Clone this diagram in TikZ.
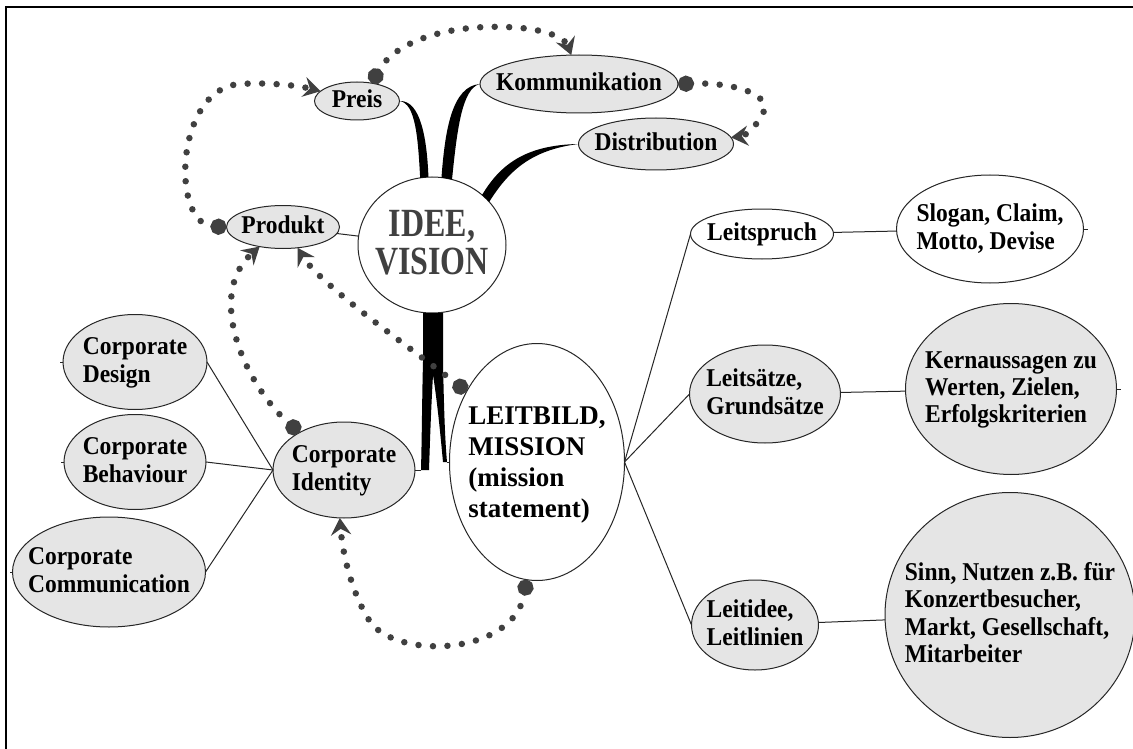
\documentclass[tikz,border=0pt]{standalone}
\usepackage{fontspec}
\setmainfont{Liberation Serif}
\usetikzlibrary{shapes.geometric,arrows.meta}

\newcommand{\textstretch}{1.09}
\newcommand{\ntext}[2][l]{\smash{\makebox[0pt]{\raisebox{-.33em}{\scalebox{1}[\textstretch]{\begin{tabular}[c]{@{}#1@{}}#2\end{tabular}}}}}}

\tikzset{
	bubble/.style={ellipse,draw=black!85,line width=1pt,fill=black!10,inner sep=0pt,outer sep=0pt,font=\bfseries\fontsize{23.5}{25}\selectfont},
	whitebubble/.style={bubble,fill=white},
	twig/.style={line width=1pt,draw=black!85},
	dotlink/.style={draw=black!75,line width=6.5pt,line cap=round,dash pattern=on 0pt off 14.5pt,{Circle[length=16pt]}-{Stealth[length=17pt,width=20pt,inset=6pt]}}
}

\begin{document}
\begin{tikzpicture}[x=1pt,y=-1pt]
		\useasboundingbox (0,0) rectangle (1133,749);
		% frame
		\draw [line width=2.5pt] (6,749) -- (6,7) -- (1133,7);
		% centre: idee and its four branches
		\node [whitebubble,minimum width=148pt,minimum height=136pt,text=black!75,font=\bfseries\fontsize{32}{30}\selectfont\renewcommand{\textstretch}{1.25}] (idee) at (432,245) {\ntext[c]{IDEE,\\VISION}};
		\node [bubble,minimum width=85pt,minimum height=38pt] (preis) at (357,101) {\ntext{Preis}};
		\node [bubble,minimum width=113pt,minimum height=43pt] (produkt) at (283,227) {\ntext{Produkt}};
		\node [bubble,minimum width=198pt,minimum height=58pt] (komm) at (579,84) {\ntext{Kommunikation}};
		\node [bubble,minimum width=155pt,minimum height=52pt] (dist) at (656,144) {\ntext{Distribution}};
		% leitbild
		\node [whitebubble,minimum width=175pt,minimum height=237pt,font=\bfseries\fontsize{27}{31}\selectfont\renewcommand{\textstretch}{1}] (leitbild) at (537,462) {\ntext{LEITBILD,\\MISSION\\(mission\\statement)}};
		% corporate identity, left
		\node [bubble,minimum width=142pt,minimum height=96pt] (ci) at (344,470) {\ntext{Corporate\\Identity}};
		\node [bubble,minimum width=144pt,minimum height=95pt] (cd) at (135,362) {\ntext{Corporate\\Design}};
		\node [bubble,minimum width=142pt,minimum height=95pt] (cb) at (135,462) {\ntext{Corporate\\Behaviour}};
		\node [bubble,minimum width=193pt,minimum height=110pt] (ccomm) at (109,572) {\ntext{Corporate\\Communication}};
		% right column
		\node [whitebubble,minimum width=143pt,minimum height=50pt] (leitspruch) at (762,234) {\ntext{Leitspruch}};
		\node [whitebubble,minimum width=187pt,minimum height=108pt] (slogan) at (990,229) {\ntext{Slogan, Claim,\\Motto, Devise}};
		\node [bubble,minimum width=151pt,minimum height=98pt] (leitsaetze) at (765,394) {\ntext{Leits\"atze,\\Grunds\"atze}};
		\node [bubble,minimum width=211pt,minimum height=171pt] (kern) at (1011,389) {\ntext{Kernaussagen zu\\Werten, Zielen,\\Erfolgskriterien}};
		\node [bubble,minimum width=127pt,minimum height=90pt] (leitidee) at (755,625) {\ntext{Leitidee,\\Leitlinien}};
		\node [bubble,minimum width=250pt,minimum height=245pt] (sinn) at (1010,615) {\ntext{Sinn, Nutzen z.B. f\"ur\\Konzertbesucher,\\Markt, Gesellschaft,\\Mitarbeiter}};
		% thick branches
		\fill (preis.east) .. controls (416,103) and (418,140) .. (idee.100) -- (idee.93) .. controls (427,140) and (421,100) .. (preis.east) -- cycle;
		\fill (komm.west) .. controls (452,86) and (445,130) .. (idee.82) -- (idee.73) .. controls (457,130) and (462,88) .. (komm.west) -- cycle;
		\fill (dist.west) .. controls (525,145) and (500,165) .. (idee.45) -- (idee.37) .. controls (508,172) and (530,150) .. (dist.west) -- cycle;
		\fill (423,313) -- (443,313) -- (443,362) .. controls (444,410) and (445,440) .. (447,462) -- (443,462) .. controls (440,430) and (437,400) .. (433,375) .. controls (431,410) and (430,440) .. (429,470) -- (421,470) .. controls (422,430) and (422,400) .. (423,362) -- cycle;
		\coordinate (barleft) at (421,470);
		\coordinate (barright) at (447,462);
		% thin lines
		\draw [twig] (produkt) -- (idee);
		\draw [twig] (barleft) -- (ci.east);
		\draw [twig] (barright) -- (leitbild.west);
		\draw [twig] (ci.west) -- (cd.east);
		\draw [twig] (ci.west) -- (cb.east);
		\draw [twig] (ci.west) -- (ccomm.east);
		\draw [twig] (leitbild.east) -- (leitspruch.west);
		\draw [twig] (leitbild.east) -- (leitsaetze.west);
		\draw [twig] (leitbild.east) -- (leitidee.west);
		\draw [twig] (leitspruch) -- (slogan);
		\draw [twig] (leitsaetze) -- (kern);
		\draw [twig] (leitidee) -- (sinn);
		\draw [twig] (slogan.east) -- ++(4,0);
		\draw [twig] (kern.east) -- ++(4,0);
		\draw [twig] (cd.west) -- ++(-3,0);
		\draw [twig] (cb.west) -- ++(-3,0);
		\draw [twig] (ccomm.west) -- ++(-3,0);
		% dotted arrows
		\draw [dotlink] (produkt.west) .. controls (170,225) and (175,88) .. (240,84) .. controls (270,82) and (300,86) .. (preis.165);
		\draw [dotlink] (preis.50) .. controls (395,40) and (450,25) .. (505,27) .. controls (545,28) and (565,38) .. (komm.105);
		\draw [dotlink] (komm.east) .. controls (735,82) and (775,95) .. (762,115) .. controls (755,128) and (745,136) .. (dist.5);
		\draw [dotlink] (leitbild.135) .. controls (420,355) and (320,285) .. (produkt.-55);
		\draw [dotlink] (ci.140) .. controls (245,385) and (205,295) .. (produkt.-140);
		\draw [dotlink] (leitbild.-95) .. controls (515,655) and (400,660) .. (371,623) .. controls (355,600) and (343,560) .. (ci.-95);
\end{tikzpicture}
\end{document}
